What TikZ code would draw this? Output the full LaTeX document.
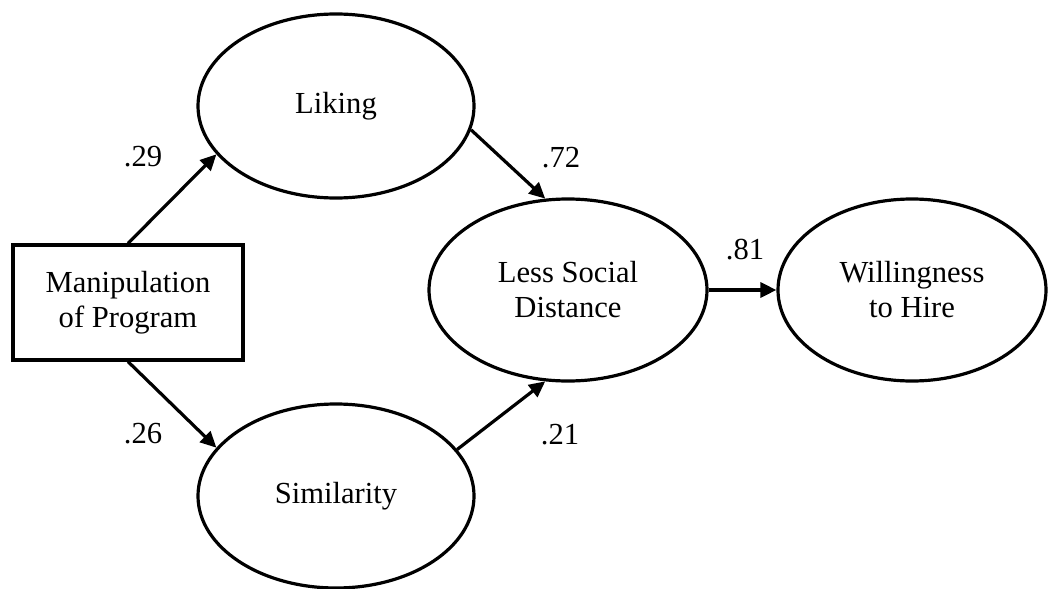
\documentclass[tikz,border=0pt]{standalone}
\usepackage{fontspec}
\setmainfont{Liberation Serif}
\usetikzlibrary{arrows.meta,shapes.geometric}
\begin{document}
\begin{tikzpicture}[x=0.5pt,y=-0.5pt,
  every node/.style={font=\fontsize{15.3}{17.5}\selectfont, inner sep=0pt},
  latent/.style={ellipse, draw, line width=1.6pt, align=center},
  observed/.style={rectangle, draw, line width=1.6pt, align=center},
  path/.style={line width=1.6pt, -{Triangle[length=8pt,width=7.5pt]}},
  coef/.style={anchor=center}]
\useasboundingbox (0,0) rectangle (1050,589);
\node[observed, minimum width=115pt, minimum height=57.5pt] (man) at (128,302.5) {Manipulation\\of Program};
\node[latent, minimum width=138pt, minimum height=92pt] (lik) at (336,106) {Liking};
\node[latent, minimum width=138pt, minimum height=92pt] (sim) at (336,496) {Similarity};
\node[latent, minimum width=139pt, minimum height=91pt] (lsd) at (568,290) {Less Social\\Distance};
\node[latent, minimum width=134pt, minimum height=91pt] (wil) at (912,290) {Willingness\\to Hire};
\draw[path] (man.north) -- (lik.202);
\draw[path] (man.south) -- (sim.158.7);
\draw[path] (lik.350) -- (lsd.104);
\draw[path] (sim.21.5) -- (lsd.256);
\draw[path] (lsd.east) -- (wil.west);
\node[coef] (c29) at (143,157) {.29};
\node[coef] (c26) at (143,434) {.26};
\node[coef] (c72) at (561,158) {.72};
\node[coef] (c21) at (560,435) {.21};
\node[coef] (c81) at (745,250) {.81};
\end{tikzpicture}
\end{document}
